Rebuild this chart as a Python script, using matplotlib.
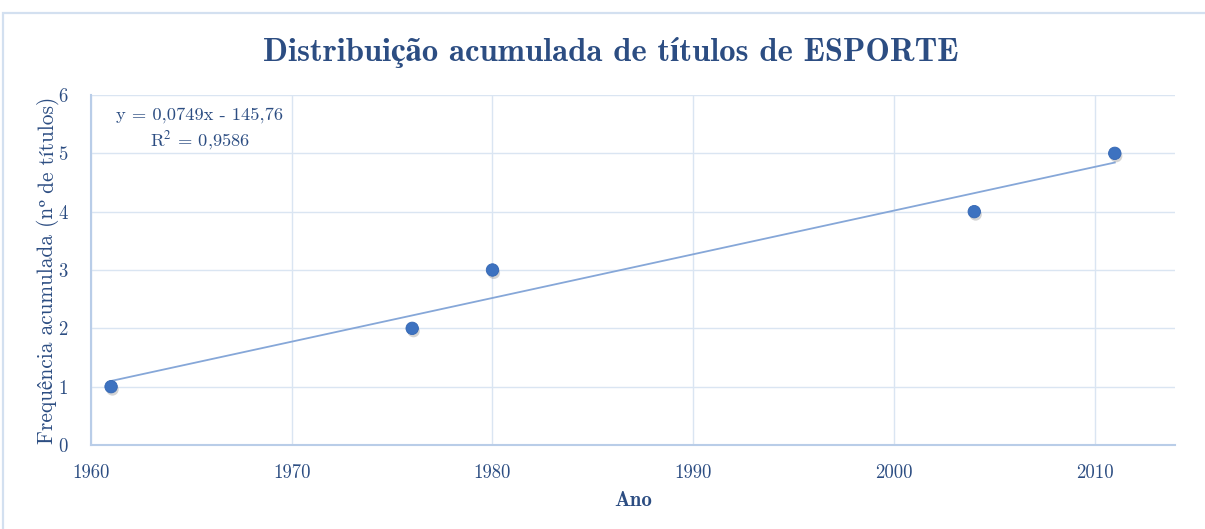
import matplotlib
matplotlib.use('Agg')
import matplotlib.pyplot as plt
import matplotlib.patheffects as pe
from matplotlib.patches import Rectangle
import numpy as np

# data
anos = [1961, 1976, 1980, 2004, 2011]
freq = [1, 2, 3, 4, 5]
xticks = [1960, 1970, 1980, 1990, 2000, 2010]
yticks = [0, 1, 2, 3, 4, 5, 6]

txt_col = '#2c4d82'
grid_col = '#dae5f2'
axis_col = '#b9cde8'
mark_col = '#3d72c0'
trend_col = '#86a7d8'

base = ['cmr10', 'STIXGeneral']
plt.rcParams['font.family'] = base
plt.rcParams['axes.formatter.use_mathtext'] = True
plt.rcParams['mathtext.fontset'] = 'stix'

W, H = 1205, 529
fig = plt.figure(figsize=(W/100, H/100), dpi=100)
ax = fig.add_axes([91/W, 1-445/H, (1175-91)/W, (445-95)/H])

# chart border (only top and left are visible)
fig.patches.append(Rectangle((3/W, -0.2), 1.2, 1.2-13/H, transform=fig.transFigure,
                             fill=False, edgecolor='#d3e0f0', lw=1.6))

# linear trend line
a, b = np.polyfit(anos, freq, 1)
xs = np.array([min(anos), max(anos)])
ax.plot(xs, a*xs+b, color=trend_col, lw=1.3, zorder=2)

ax.scatter(anos, freq, s=80, color=mark_col, edgecolor='#3366b3', lw=0.6, zorder=3,
           path_effects=[pe.SimplePatchShadow(offset=(1, -2), alpha=0.25, shadow_rgbFace='#555555'),
                         pe.Normal()])

ax.set_xlim(1960, 2014)
ax.set_ylim(0, 6)
ax.set_xticks(xticks)
ax.set_yticks(yticks)
ax.set_xticklabels([str(t) for t in xticks])
ax.set_yticklabels([str(t) for t in yticks])
ax.grid(True, color=grid_col, lw=1)
ax.set_axisbelow(True)
for s in ['top', 'right']:
    ax.spines[s].set_visible(False)
for s in ['left', 'bottom']:
    ax.spines[s].set_color(axis_col)
    ax.spines[s].set_linewidth(1.5)
ax.tick_params(length=0, colors=txt_col, labelsize=13.5)
ax.tick_params(axis='x', pad=14)
ax.tick_params(axis='y', pad=17)

ax.set_xlabel('Ano', color=txt_col, fontsize=15, family=['cmb10', 'STIXGeneral'],
              fontweight='bold', labelpad=6)
fig.text(611/W, 1-52/H, 'Distribuição acumulada de títulos de ESPORTE', ha='center', va='center',
         color=txt_col, fontsize=23.5, family=['cmb10', 'STIXGeneral'], fontweight='bold')

fig.text(200/W, 1-115/H, 'y = 0,0749x - 145,76', ha='center', va='center',
         color=txt_col, fontsize=13.3)
fig.text(200/W, 1-141/H, r'R$^2$ = 0,9586', ha='center', va='center',
         color=txt_col, fontsize=13.3)

# y label in pieces: cmr10 has a wrong glyph at the "º" code point
partes = ['Frequência acumulada (n', 'º', ' de títulos)']
fams = [base, ['STIXGeneral'], base]
renderer = fig.canvas.get_renderer()
objs = []
for p, f in zip(partes, fams):
    t = fig.text(48/W, 0, p, rotation=90, ha='center', va='bottom', color=txt_col,
                 fontsize=15.4, family=f)
    objs.append(t)
alturas = [t.get_window_extent(renderer).height for t in objs]
y0 = (H-270) - sum(alturas)/2
for t, h in zip(objs, alturas):
    t.set_y(y0/H)
    y0 += h

fig.savefig('out.png', dpi=100)
